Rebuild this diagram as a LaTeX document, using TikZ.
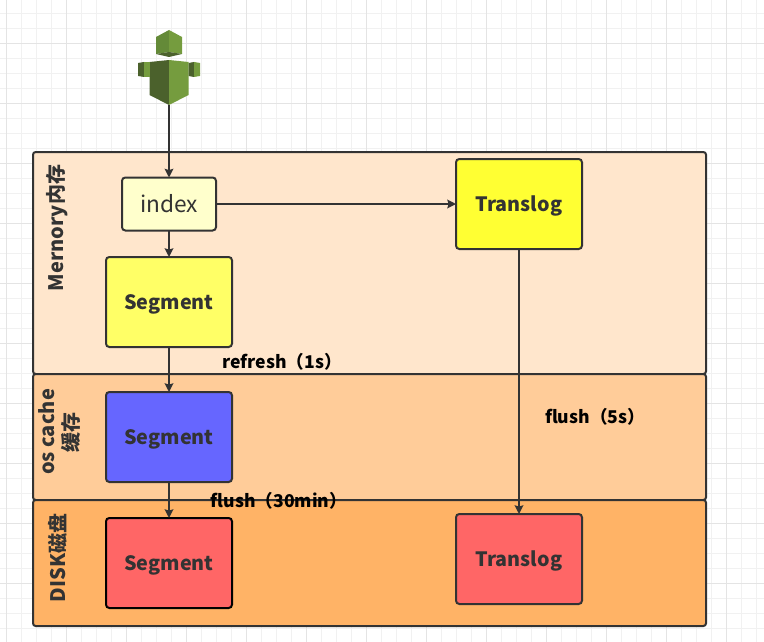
\documentclass[tikz,border=0pt]{standalone}
\usepackage{fontspec}
\setmainfont{Noto Sans CJK SC}
\usepackage{xcolor}
\usetikzlibrary{arrows.meta,calc}
\tikzset{>={Stealth[length=6.5pt,width=6.5pt,inset=1pt]}}
\definecolor{inkgrey}{HTML}{333333}
\definecolor{gridminor}{HTML}{F1F1F1}
\definecolor{gridmajor}{HTML}{E4E4E4}
\definecolor{botdark}{HTML}{4B612C}
\definecolor{botlight}{HTML}{759C3E}
\definecolor{botmid}{HTML}{648A38}
\tikzset{
	layer/.style={draw=inkgrey,line width=1.5pt,rounded corners=2pt,inner sep=0pt,outer sep=0pt,anchor=north west,minimum width=504.75pt},
	box/.style={draw=inkgrey,line width=1.5pt,rounded corners=2.5pt,inner sep=0pt,outer sep=0pt,text=inkgrey,font=\fontsize{14.8}{17}\selectfont\bfseries,text height=10.8pt,text depth=0pt,minimum width=94.5pt,minimum height=67.5pt},
	layertext/.style={rotate=90,text=inkgrey,align=center,font=\fontsize{15}{18}\selectfont\bfseries},
	note/.style={text=black,font=\fontsize{13.2}{15}\selectfont\bfseries,inner sep=0pt},
	link/.style={draw=inkgrey,line width=1.5pt,->}
}

\begin{document}
\begin{tikzpicture}[x=0.75pt,y=-0.75pt]
	\useasboundingbox (0,0) rectangle (764,642);

	% Paper grid
	\foreach \gx in {6.7,21.7,...,760} \draw[gridminor,line width=0.75pt] (\gx,0) -- (\gx,642);
	\foreach \gy in {13.3,28.3,...,640} \draw[gridminor,line width=0.75pt] (0,\gy) -- (764,\gy);
	\foreach \gx in {6.7,66.7,...,760} \draw[gridmajor,line width=0.75pt] (\gx,0) -- (\gx,642);
	\foreach \gy in {43.3,103.3,...,640} \draw[gridmajor,line width=0.75pt] (0,\gy) -- (764,\gy);

	% User icon
	\fill[botmid] (156,37) -- (169,30) -- (169,52) -- (156,54) -- cycle;
	\fill[botlight] (182,37) -- (169,30) -- (169,52) -- (182,54) -- cycle;
	\fill[botdark] (156,54) -- (169,52) -- (182,54) -- (169,57) -- cycle;
	\fill[botdark] (149.5,62) -- (169,60) -- (169,105) -- (149.5,95) -- cycle;
	\fill[botlight] (188.5,62) -- (169,60) -- (169,105) -- (188.5,95) -- cycle;
	\fill[botdark] (138,63) -- (144,62) -- (144,77) -- (138,76) -- cycle;
	\fill[botlight] (144,62) -- (149.5,62) -- (149.5,77) -- (144,77) -- cycle;
	\fill[botdark] (188.5,63) -- (194,62) -- (194,77) -- (188.5,76) -- cycle;
	\fill[botlight] (194,62) -- (200,63) -- (200,76) -- (194,77) -- cycle;
	\coordinate (user) at (169,105);

	% Layers
	\node[layer,fill={rgb,255:red,255;green,230;blue,204},minimum height=166.5pt] (memory) at (33,152) {};
	\node[layer,fill={rgb,255:red,255;green,204;blue,153},minimum height=94.5pt] (oscache) at (33,374) {};
	\node[layer,fill={rgb,255:red,255;green,179;blue,102},minimum height=94.5pt] (disk) at (33,500) {};

	% Boxes
	\node[box,fill={rgb,255:red,255;green,255;blue,204},minimum width=70.5pt,minimum height=39.75pt,font=\fontsize{17}{19}\selectfont,text height=12pt] (index) at (169,204) {index};
	\node[box,fill={rgb,255:red,255;green,255;blue,102}] (segA) at (169,302) {Segment};
	\node[box,fill={rgb,255:red,102;green,102;blue,255}] (segB) at (169,437) {Segment};
	\node[box,fill={rgb,255:red,255;green,102;blue,102},draw=black] (segC) at (169,563) {Segment};
	\node[box,fill={rgb,255:red,255;green,255;blue,51}] (logA) at (519,204) {Translog};
	\node[box,fill={rgb,255:red,255;green,102;blue,102}] (logB) at (519,559) {Translog};

	% Connectors
	\draw[link] (user) -- (index);
	\draw[link] (index) -- (segA);
	\draw[link] (index) -- (logA);
	\draw[link] (segA) -- (segB);
	\draw[link] (segB) -- (segC);
	\draw[link] (logA) -- (logB);

	% Labels
	\node[layertext] (memorytext) at (57,228) {Mernory内存};
	\node[layertext] (oscachetext) at (59,432) {os cache\\缓存};
	\node[layertext] (disktext) at (58,558) {DISK磁盘};
	\node[note] (refreshtext) at (282,362) {refresh（1s）};
	\node[note] (flushlog) at (595,417) {flush（5s）};
	\node[note] (flushseg) at (279,501) {flush（30min）};
\end{tikzpicture}
\end{document}
